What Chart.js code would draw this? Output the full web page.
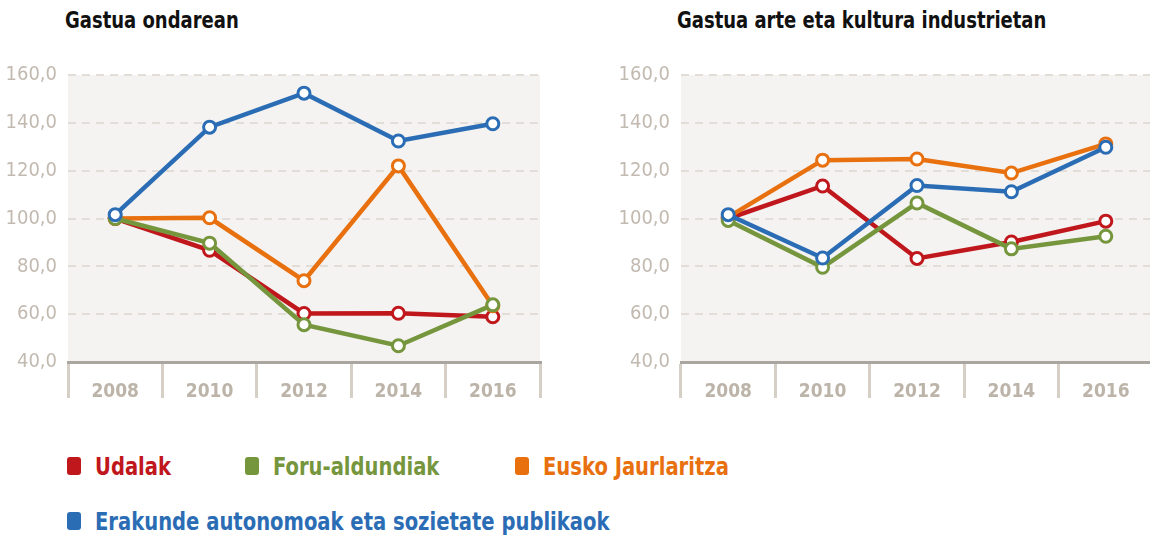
<!DOCTYPE html>
<html>
<head>
<meta charset="utf-8">
<script src="https://cdn.jsdelivr.net/npm/chart.js@4.4.1/dist/chart.umd.min.js"></script>
<style>
  body { margin: 0; width: 1150px; height: 535px; background: #fff; position: relative; overflow: hidden;
         font-family: 'Liberation Sans Narrow', 'DejaVu Sans Condensed', sans-serif; }
  .title { position: absolute; top: 7px; font-weight: bold; font-size: 23px; color: #111;
           transform: scaleX(0.87); transform-origin: left center; white-space: nowrap; }
  .box { position: absolute; }
  .item { position: absolute; font-weight: bold; font-size: 25px; display: flex; align-items: center; height: 30px;
          white-space: nowrap; }
  .item .txt { display: inline-block; transform: scaleX(0.87); transform-origin: left center; }
  .sw { display: inline-block; width: 14px; height: 18px; border-radius: 3px; margin-right: 14px; }
</style>
</head>
<body>
<div class="title" style="left:65px">Gastua ondarean</div>
<div class="title" style="left:677px">Gastua arte eta kultura industrietan</div>
<div class="box" style="left:0;top:45px;width:560px;height:370px"><canvas id="chartOndare"></canvas></div>
<div class="box" style="left:600px;top:45px;width:562px;height:370px"><canvas id="chartKultura"></canvas></div>
<div id="legend"></div>

<script>
// ===== DATUAK =====
const years = ['2008', '2010', '2012', '2014', '2016'];
const seriesNames = ['Udalak', 'Foru-aldundiak', 'Eusko Jaurlaritza', 'Erakunde autonomoak eta sozietate publikaok'];
const seriesColors = ['#c0171c', '#76963e', '#e8700f', '#2b6db5'];

// Gastua ondarean
const ondareUdalak = [100, 86.7, 60.3, 60.4, 58.9];
const ondareForu = [100, 89.7, 55.6, 46.8, 63.9];
const ondareJaurlaritza = [100, 100.3, 74.0, 122.0, 63.5];
const ondareErakunde = [101.6, 138.2, 152.4, 132.4, 139.6];

// Gastua arte eta kultura industrietan
const kulturaUdalak = [100, 113.6, 83.3, 90.2, 98.9];
const kulturaForu = [99.2, 79.6, 106.5, 87.3, 92.6];
const kulturaJaurlaritza = [100.6, 124.4, 124.9, 119.0, 131.2];
const kulturaErakunde = [101.6, 83.5, 113.8, 111.2, 129.8];

const plotBg = {
    id: 'plotBg',
    beforeDraw(chart) {
        const a = chart.chartArea;
        chart.ctx.save();
        chart.ctx.fillStyle = '#f4f3f1';
        chart.ctx.fillRect(a.left, a.top, a.right - a.left, a.bottom - a.top);
        chart.ctx.restore();
    }
};

const fontFam = "'Liberation Sans Narrow', 'DejaVu Sans Condensed', sans-serif";

function makeChart(id, values, yWidth, rightPad) {
    const order = [3, 1, 2, 0];
    new Chart(document.getElementById(id), {
        type: 'line',
        data: {
            labels: years,
            datasets: values.map((v, i) => ({
                label: seriesNames[i],
                data: v,
                borderColor: seriesColors[i],
                borderWidth: 4.5,
                pointRadius: 6,
                pointBorderWidth: 3,
                pointBackgroundColor: '#fff',
                pointBorderColor: seriesColors[i],
                tension: 0,
                order: order[i]
            }))
        },
        options: {
            responsive: true,
            maintainAspectRatio: false,
            animation: false,
            layout: { padding: { top: 30, right: rightPad, left: 0, bottom: 0 } },
            plugins: {
                legend: { display: false },
                tooltip: { enabled: false }
            },
            scales: {
                y: {
                    min: 40,
                    max: 160,
                    afterFit: s => { s.width = yWidth; },
                    ticks: {
                        stepSize: 20,
                        padding: 11,
                        color: '#c2bab0',
                        font: { family: fontFam, size: 20 },
                        callback: v => v.toFixed(1).replace('.', ',')
                    },
                    grid: { color: '#e2ded7', lineWidth: 2, drawTicks: false },
                    border: { display: false, dash: [8, 6] }
                },
                x: {
                    offset: true,
                    afterFit: s => { s.height = 53; },
                    ticks: {
                        padding: -17,
                        color: '#bdb4a9',
                        font: { family: fontFam, size: 19, weight: 'bold' }
                    },
                    grid: {
                        offset: true,
                        drawOnChartArea: false,
                        drawTicks: true,
                        tickLength: 36,
                        lineWidth: 3,
                        color: '#d6cfc5'
                    },
                    border: { display: true, color: '#aaa59e', width: 3 }
                }
            }
        },
        plugins: [plotBg]
    });
}

makeChart('chartOndare', [ondareUdalak, ondareForu, ondareJaurlaritza, ondareErakunde], 68, 20);
makeChart('chartKultura', [kulturaUdalak, kulturaForu, kulturaJaurlaritza, kulturaErakunde], 81, 0);

// ===== LEGENDA =====
const legendPos = [[67, 451], [245, 451], [515, 451], [67, 506]];
const legend = document.getElementById('legend');
seriesNames.forEach((name, i) => {
    const el = document.createElement('div');
    el.className = 'item';
    el.style.left = legendPos[i][0] + 'px';
    el.style.top = legendPos[i][1] + 'px';
    el.style.color = seriesColors[i];
    el.innerHTML = '<span class="sw" style="background:' + seriesColors[i] + '"></span><span class="txt">' + name + '</span>';
    legend.appendChild(el);
});
</script>
</body>
</html>
